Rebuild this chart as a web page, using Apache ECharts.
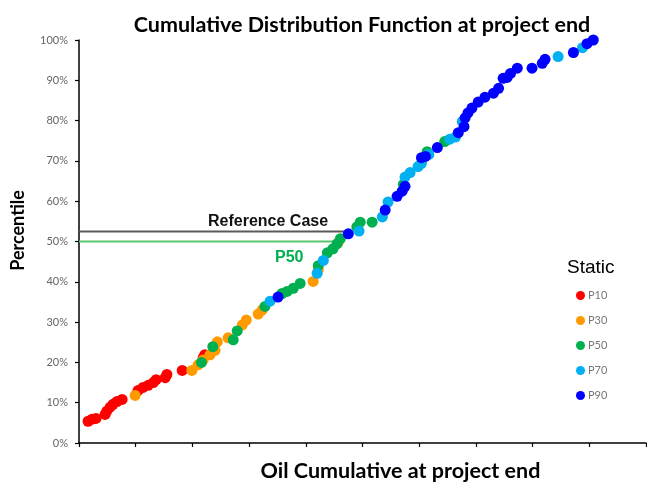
<!DOCTYPE html>
<html><head><meta charset="utf-8">
<script src="https://cdn.jsdelivr.net/npm/echarts@6/dist/echarts.min.js"></script>
<style>html,body{margin:0;padding:0;background:#fff}#c{width:647px;height:487px}</style>
</head><body><div id="c"></div>
<script>
// categories (legend entries) and colours
const seriesNames = ['P10', 'P30', 'P50', 'P70', 'P90'];
const seriesColors = ['#FF0000', '#FF9A00', '#00B050', '#00B0F0', '#0000FF'];

// [oil cumulative (relative units), percentile %]
const p10 = [[0.16,5.4],[0.23,5.9],[0.30,6.1],[0.46,7.1],[0.49,7.9],[0.55,8.9],[0.60,9.6],[0.67,10.3],[0.76,10.8],
  [1.04,13.0],[1.13,13.8],[1.22,14.3],[1.31,15.0],[1.36,15.7],[1.52,16.2],[1.55,17.0],[1.82,18.0],[2.19,21.2],[2.22,21.9]];
const p30 = [[0.99,11.8],[1.99,18.0],[2.10,19.4],[2.19,20.6],[2.31,21.9],[2.40,23.0],[2.44,25.1],[2.63,26.1],[2.88,29.3],
  [2.95,30.5],[3.16,32.0],[3.23,33.0],[4.13,40.1],[4.22,43.0],[4.57,49.7]];
const p50 = [[2.16,20.0],[2.36,23.9],[2.72,25.6],[2.79,27.8],[3.28,33.9],[3.58,37.1],[3.67,37.6],[3.78,38.4],[3.90,39.6],
  [4.22,44.0],[4.38,47.2],[4.48,48.2],[4.55,49.4],[4.61,50.7],[4.90,53.6],[4.96,54.8],[5.17,54.8],[5.72,64.2],[6.14,72.3],[6.45,74.8]];
const p70 = [[3.37,35.2],[4.20,42.1],[4.31,45.3],[4.94,52.6],[5.35,56.1],[5.45,59.8],[5.75,66.0],[5.84,67.1],[5.98,68.6],
  [6.04,69.4],[6.17,71.6],[6.54,75.4],[6.64,75.9],[6.76,79.8],[8.45,95.9],[8.88,98.1]];
const p90 = [[3.51,36.2],[4.75,51.9],[5.40,57.8],[5.61,61.2],[5.70,62.5],[5.75,63.7],[6.04,70.8],[6.11,71.1],[6.32,73.3],
  [6.69,77.0],[6.79,78.5],[6.81,80.7],[6.86,81.9],[6.93,83.1],[7.04,84.6],[7.16,85.8],[7.31,86.8],[7.40,88.0],[7.48,90.5],
  [7.55,90.7],[7.61,91.7],[7.73,93.0],[7.99,93.0],[8.17,94.2],[8.22,95.2],[8.72,96.9],[8.96,99.1],[9.07,100]];
const seriesData = [p10, p30, p50, p70, p90];

// reference lines
const refCaseLine = [[0, 52.5], [4.73, 52.5]];
const p50Line = [[0, 50], [4.56, 50]];

// axes
const xRange = [0, 10];
const yRange = [0, 100];

const chart = echarts.init(document.getElementById('c'), null, {renderer: 'canvas'});
const scatterSeries = seriesNames.map((n, i) => ({
  name: n, type: 'scatter', data: seriesData[i], symbolSize: 11,
  itemStyle: {color: seriesColors[i], opacity: 1}, z: 3 + i
}));
chart.setOption({
  animation: false,
  title: [{
    text: 'Cumulative Distribution Function at project end',
    left: 357, top: 9, textAlign: 'center',
    textStyle: {fontFamily: 'Lato', fontWeight: 'bold', fontSize: 21.5, color: '#000'}
  }],
  grid: {left: 79, right: 1, top: 40, bottom: 41, containLabel: false},
  xAxis: {
    type: 'value', min: xRange[0], max: xRange[1], interval: 1,
    name: 'Oil Cumulative at project end', nameLocation: 'middle', nameGap: 17,
    nameTextStyle: {fontFamily: 'Lato', fontWeight: 'bold', fontSize: 21.5, color: '#000', padding: [0, 0, 0, 76]},
    axisLine: {show: true, onZero: false, lineStyle: {color: '#000', width: 1.5}},
    axisTick: {show: true, length: 4, inside: false, lineStyle: {color: '#000', width: 1.2}},
    axisLabel: {show: false}, splitLine: {show: false}
  },
  yAxis: {
    type: 'value', min: yRange[0], max: yRange[1], interval: 10,
    name: 'Percentile', nameLocation: 'middle', nameGap: 52, nameRotate: 90,
    nameTextStyle: {fontFamily: 'Lato', fontWeight: 'bold', fontSize: 18, color: '#000', padding: [0, 0, 0, 22]},
    axisLine: {show: true, onZero: false, lineStyle: {color: '#000', width: 1.5}},
    axisTick: {show: true, length: 4, lineStyle: {color: '#000', width: 1.2}},
    axisLabel: {formatter: '{value}%', fontFamily: 'Lato', fontSize: 11, color: '#666', margin: 11},
    splitLine: {show: false}
  },
  legend: {
    data: seriesNames, orient: 'vertical', left: 571, top: 285,
    icon: 'circle', itemWidth: 9, itemHeight: 9, itemGap: 14, itemStyle: {borderWidth: 0},
    textStyle: {fontFamily: 'Lato', fontSize: 11, color: '#777', padding: [0, 0, 0, -2]},
    selectedMode: false
  },
  graphic: [
    {type: 'text', left: 567, top: 258, style: {text: 'Static', font: '19px "Liberation Sans"', fill: '#000'}},
    {type: 'text', left: 208, top: 214, style: {text: 'Reference Case', font: 'bold 16px "Liberation Sans"', fill: '#111'}},
    {type: 'text', left: 275, top: 250, style: {text: 'P50', font: 'bold 16px "Liberation Sans"', fill: '#00B050'}}
  ],
  series: [
    {name: 'Reference Case', type: 'line', data: refCaseLine, showSymbol: false, silent: true,
      lineStyle: {color: '#5a5a5a', width: 2}, z: 1},
    {name: 'P50 line', type: 'line', data: p50Line, showSymbol: false, silent: true,
      lineStyle: {color: '#5CC46E', width: 2}, z: 1}
  ].concat(scatterSeries)
});
</script></body></html>
